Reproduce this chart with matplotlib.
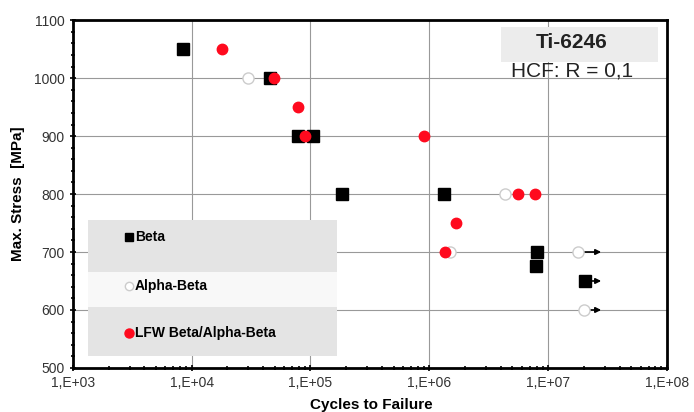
import matplotlib.pyplot as plt
import numpy as np
from matplotlib.ticker import MultipleLocator, LogLocator, NullFormatter
from matplotlib.patches import FancyBboxPatch

# Beta
beta_n = [8.4e3, 4.6e4, 7.8e4, 1.05e5, 1.84e5, 1.33e6, 8.05e6, 7.9e6, 2.04e7]
beta_s = [1050, 1000, 900, 900, 800, 800, 700, 675, 650]
# Alpha-Beta
ab_n = [3.0e4, 4.3e6, 1.5e6, 1.8e7, 2.0e7]
ab_s = [1000, 800, 700, 700, 600]
# LFW Beta/Alpha-Beta
lfw_n = [1.8e4, 4.9e4, 7.8e4, 9.0e4, 9.0e5, 5.6e6, 7.7e6, 1.68e6, 1.35e6]
lfw_s = [1050, 1000, 950, 900, 900, 800, 800, 750, 700]
# run-outs (arrows)
runout_n = [2.04e7, 1.8e7, 2.0e7]
runout_s = [650, 700, 600]
runout_end = 2.95e7

xticks = [1e3, 1e4, 1e5, 1e6, 1e7, 1e8]
xlabels = ["1,E+03", "1,E+04", "1,E+05", "1,E+06", "1,E+07", "1,E+08"]

plt.rc('font', family='Liberation Sans')
fig = plt.figure(figsize=(6.94, 4.12), dpi=100)
ax = fig.add_axes([0.105, 0.107, 0.856, 0.844])

ax.set_xscale('log')
ax.set_xlim(1e3, 1e8)
ax.set_ylim(500, 1100)
ax.set_xticks(xticks)
ax.set_xticklabels(xlabels)
ax.xaxis.set_minor_locator(LogLocator(base=10, subs=np.arange(2, 10)))
ax.xaxis.set_minor_formatter(NullFormatter())
ax.yaxis.set_major_locator(MultipleLocator(100))
ax.yaxis.set_minor_locator(MultipleLocator(20))
ax.grid(True, which='major', color='#999999', linewidth=0.8)
ax.set_axisbelow(True)
for sp in ax.spines.values():
    sp.set_linewidth(2)
ax.tick_params(which='both', direction='inout', width=1.2, labelsize=10, colors='black', labelcolor='#333333')
ax.tick_params(which='major', length=5)
ax.tick_params(which='minor', length=3)

for n, s in zip(runout_n, runout_s):
    ax.annotate("", xy=(runout_end, s), xytext=(n, s),
                arrowprops=dict(arrowstyle='-|>', color='black', lw=1.2, mutation_scale=8), zorder=2)

ax.plot(ab_n, ab_s, 'o', ms=8, mfc='white', mec='#cccccc', mew=1, zorder=3)
ax.plot(beta_n, beta_s, 's', ms=8, mfc='black', mec='black', zorder=4)
ax.plot(lfw_n, lfw_s, 'o', ms=7.5, mfc='#ff0a1e', mec='#ff0a1e', zorder=5)

# legend box
ax.add_patch(FancyBboxPatch((0.025, 0.035), 0.42, 0.39, boxstyle='square,pad=0', transform=ax.transAxes,
                            facecolor='#e4e4e4', edgecolor='none', zorder=6))
ax.add_patch(FancyBboxPatch((0.025, 0.175), 0.42, 0.10, boxstyle='square,pad=0', transform=ax.transAxes,
                            facecolor='#f8f8f8', edgecolor='none', zorder=6))
lx = 0.094
ax.plot([lx], [0.377], 's', ms=6, color='black', transform=ax.transAxes, zorder=7)
ax.plot([lx], [0.237], 'o', ms=6, mfc='white', mec='#cccccc', transform=ax.transAxes, zorder=7)
ax.plot([lx], [0.10], 'o', ms=6.5, color='#ff0a1e', transform=ax.transAxes, zorder=7)
ax.text(lx + 0.01, 0.377, "Beta", transform=ax.transAxes, va='center', fontsize=10, fontweight='bold', zorder=8)
ax.text(lx + 0.01, 0.237, "Alpha-Beta", transform=ax.transAxes, va='center', fontsize=10, fontweight='bold', zorder=8)
ax.text(lx + 0.01, 0.10, "LFW Beta/Alpha-Beta", transform=ax.transAxes, va='center', fontsize=10, fontweight='bold', zorder=8)

# title box
ax.add_patch(FancyBboxPatch((0.72, 0.88), 0.265, 0.10, boxstyle='square,pad=0', transform=ax.transAxes,
                            facecolor='#ececec', edgecolor='none', zorder=6))
ax.text(0.84, 0.935, "Ti-6246", transform=ax.transAxes, ha='center', va='center',
        fontsize=15, fontweight='bold', color='#222222', zorder=8)
ax.text(0.84, 0.855, "HCF: R = 0,1", transform=ax.transAxes, ha='center', va='center',
        fontsize=15, color='#222222', zorder=8)

ax.set_ylabel("Max. Stress  [MPa]", fontsize=11, fontweight='bold', labelpad=6)
fig.text(0.535, 0.0, "Cycles to Failure", ha='center', va='bottom', fontsize=11, fontweight='bold')

plt.savefig("out.png", dpi=100)
